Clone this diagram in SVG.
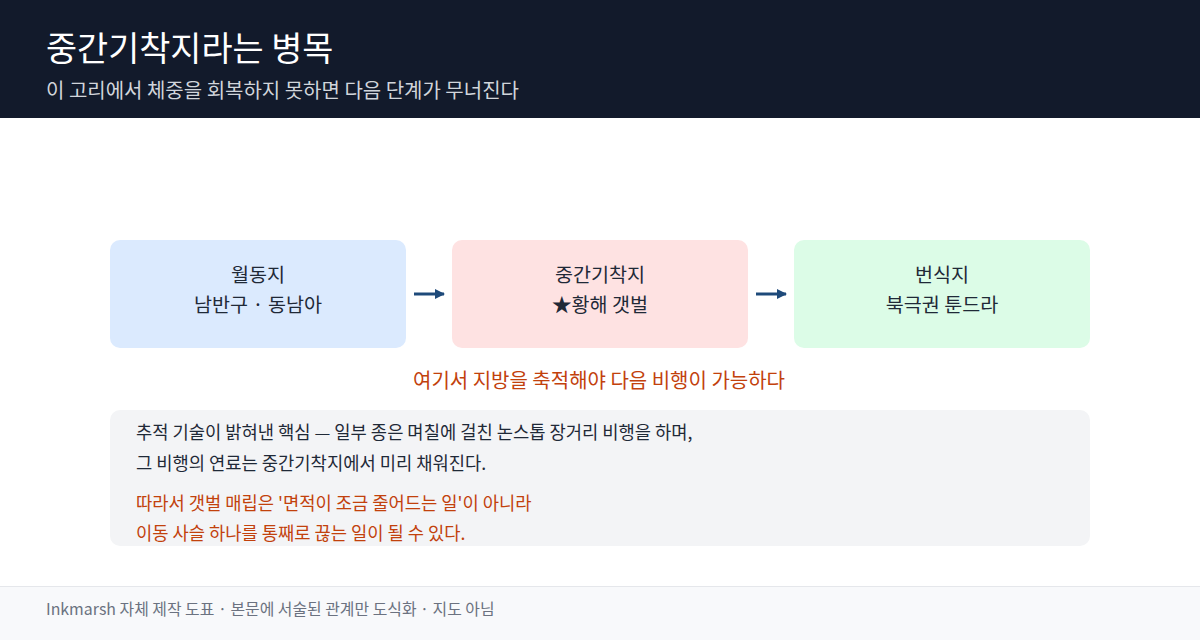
<svg xmlns="http://www.w3.org/2000/svg" width="1200" height="640" viewBox="0 0 1200 640">
<style>
text{font-family:"Noto Sans CJK KR","Noto Sans",sans-serif}
.nt{font-size:19.6px;fill:#1f2937;text-anchor:middle}
.bt{font-size:17.7px;fill:#1f2937}
.rt{font-size:17.7px;fill:#c2410c}
</style>
<defs>
<marker id="ah" viewBox="0 0 10 10" refX="9" refY="5" markerWidth="10" markerHeight="10" markerUnits="userSpaceOnUse" orient="auto"><path d="M0,0 L10,5 L0,10 z" fill="#1e4a7a"/></marker>
</defs>
<rect width="1200" height="640" fill="#ffffff"/>
<g id="header">
<rect x="0" y="0" width="1200" height="118" fill="#121a2b"/>
<text x="46" y="61" font-size="33.8" fill="#ffffff">중간기착지라는 병목</text>
<text x="46" y="98" font-size="20" fill="#d1d5db">이 고리에서 체중을 회복하지 못하면 다음 단계가 무너진다</text>
</g>
<g id="n1">
<rect x="110" y="240" width="296" height="108" rx="10" fill="#dbeafe"/>
<text class="nt" x="258" y="282">월동지</text>
<text class="nt" x="258" y="312">남반구 · 동남아</text>
</g>
<g id="n2">
<rect x="452" y="240" width="296" height="108" rx="10" fill="#fee2e2"/>
<text class="nt" x="600" y="282">중간기착지</text>
<text class="nt" x="600" y="312">★황해 갯벌</text>
</g>
<g id="n3">
<rect x="794" y="240" width="296" height="108" rx="10" fill="#dcfce7"/>
<text class="nt" x="942" y="282">번식지</text>
<text class="nt" x="942" y="312">북극권 툰드라</text>
</g>
<g id="connectors" stroke="#1e4a7a" stroke-width="3" fill="none">
<line x1="414" y1="294" x2="444" y2="294" marker-end="url(#ah)"/>
<line x1="756" y1="294" x2="786" y2="294" marker-end="url(#ah)"/>
</g>
<g id="note">
<text x="599" y="388" font-size="20" fill="#c2410c" text-anchor="middle">여기서 지방을 축적해야 다음 비행이 가능하다</text>
</g>
<g id="detail">
<rect x="110" y="410" width="980" height="136" rx="10" fill="#f3f4f6"/>
<text class="bt" x="136" y="439">추적 기술이 밝혀낸 핵심 — 일부 종은 며칠에 걸친 논스톱 장거리 비행을 하며,</text>
<text class="bt" x="136" y="470">그 비행의 연료는 중간기착지에서 미리 채워진다.</text>
<text class="rt" x="136" y="510">따라서 갯벌 매립은 '면적이 조금 줄어드는 일'이 아니라</text>
<text class="rt" x="136" y="540">이동 사슬 하나를 통째로 끊는 일이 될 수 있다.</text>
</g>
<g id="footer">
<rect x="0" y="586" width="1200" height="54" fill="#f8f9fb"/>
<line x1="0" y1="586.5" x2="1200" y2="586.5" stroke="#e5e7eb" stroke-width="1"/>
<text x="46" y="615" font-size="15.9" fill="#6b7280">Inkmarsh 자체 제작 도표 · 본문에 서술된 관계만 도식화 · 지도 아님</text>
</g>
</svg>
